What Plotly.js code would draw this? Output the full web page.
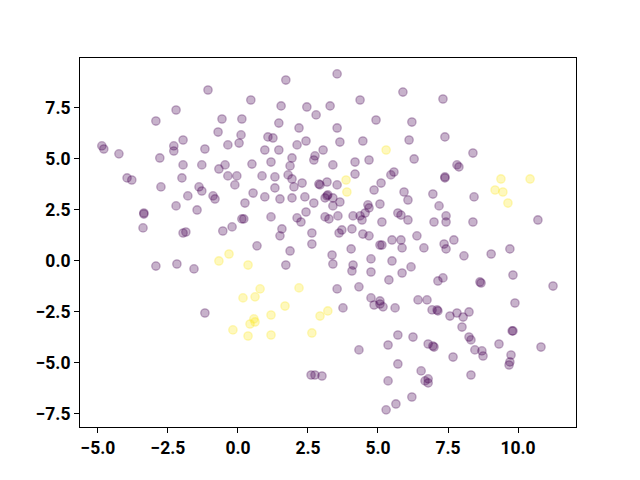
<!DOCTYPE html>
<html>
<head>
<meta charset="utf-8">
<script src="https://cdn.plot.ly/plotly-3.0.1.min.js"></script>
<style>html,body{margin:0;padding:0;background:#fff;}#chart{width:640px;height:480px;}</style>
</head>
<body>
<div id="chart"></div>
<script>
// class 0 (purple) points
var purpleX = [-2.21,-2.93,-4.86,-4.79,-4.25,-1.96,-2.29,-2.29,-2.79,-1.96,-1.29,-1.18,-2.0,-3.96,-3.79,
 1.71,-1.07,0.46,1.54,2.46,2.79,3.29,-0.57,0.14,1.46,2.18,-0.71,0.11,0.04,1.07,1.25,2.43,-0.36,2.11,0.96,1.46,3.04,1.93,2.75,2.71,-0.46,-0.68,0.5,1.18,1.86,-0.36,-0.04,0.86,1.32,1.79,1.93,2.29,2.89,2.93,3.18,
 -2.75,-1.39,-1.29,-1.79,-2.21,-1.46,-3.36,-3.36,-3.39,-1.96,-1.86,-2.93,-2.18,-1.57,
 -0.11,-0.89,-0.82,0.25,0.54,0.96,1.32,1.5,1.93,2.0,2.39,2.71,3.11,3.18,0.14,0.21,-0.21,-0.54,1.18,2.11,2.25,2.43,1.57,1.5,2.64,2.64,3.11,0.68,1.86,1.71,
 3.54,5.89,4.36,7.32,4.93,6.21,3.54,3.64,4.46,6.11,7.39,3.39,4.18,4.68,6.29,4.18,5.46,5.57,7.39,7.39,5.11,
 8.39,7.82,7.89,
 8.43,8.39,10.71,7.71,8.07,9.04,9.71,8.64,8.68,9.82,11.25,9.89,
 3.54,3.21,3.39,3.64,3.39,4.86,5.93,6.07,6.96,7.18,4.64,4.68,5.07,4.11,4.36,4.43,4.54,3.57,3.25,5.71,5.82,5.14,6.07,7.0,7.43,7.43,3.71,3.61,4.07,4.46,4.68,6.39,5.5,5.82,5.86,5.07,5.14,6.64,7.36,7.43,4.04,3.36,4.75,5.5,3.39,4.11,4.07,4.75,6.18,5.86,5.39,7.14,7.32,3.54,4.32,4.75,5.07,6.43,6.75,
 3.75,4.86,5.07,5.18,5.61,6.93,7.11,7.14,7.57,5.71,6.25,5.36,6.79,6.96,7.0,4.32,7.68,5.71,6.54,6.79,6.68,6.79,5.36,6.21,5.64,5.29,
 7.82,8.25,8.04,8.0,8.25,8.32,9.79,9.82,9.32,10.82,8.46,8.71,8.75,9.75,9.71,9.68,8.32,
 -1.18,2.61,2.75,3.0];
var purpleY = [7.40,6.86,5.64,5.49,5.25,5.93,5.64,5.39,5.05,4.71,4.71,5.49,4.07,4.07,3.97,
 8.87,8.38,7.89,7.60,7.55,7.16,7.60,6.96,6.96,6.76,6.52,6.32,6.18,5.78,6.08,6.03,5.88,5.69,5.69,5.44,5.44,5.44,5.05,5.15,4.95,4.71,4.51,4.75,4.85,4.66,4.17,4.17,4.17,4.12,4.22,4.02,3.82,3.77,3.73,3.87,
 3.63,3.63,3.43,3.19,2.70,2.50,2.35,2.30,1.62,1.37,1.42,-0.25,-0.15,-0.39,
 3.73,3.19,3.04,2.84,3.33,3.14,3.58,3.04,3.09,3.63,3.14,2.84,3.09,3.19,2.06,2.06,1.67,1.47,2.16,2.11,1.91,2.40,1.57,1.23,1.37,0.83,2.16,0.74,0.49,-0.20,
 9.17,8.28,7.89,7.94,6.91,6.81,6.52,5.83,5.88,5.93,6.08,4.71,4.85,4.95,5.0,4.26,4.22,4.36,4.12,4.07,3.82,
 5.29,4.71,4.61,
 3.14,1.91,2.01,1.03,0.25,0.34,0.59,-1.03,-1.08,-0.69,-1.23,-2.06,
 3.73,3.24,3.09,2.89,2.70,3.48,3.38,2.99,3.28,2.70,2.75,2.60,2.79,2.21,2.21,2.01,2.35,2.21,2.06,2.35,2.25,1.91,2.01,1.91,2.21,1.91,1.52,1.37,1.57,1.32,1.23,1.23,1.03,1.03,0.64,0.78,0.78,0.64,0.83,0.59,0.59,0.29,0.10,0.0,-0.15,-0.20,-0.49,-0.54,-0.29,-0.59,-0.93,-0.98,-0.83,-1.37,-1.27,-1.81,-1.96,-1.91,-1.91,
 -2.30,-2.16,-2.11,-2.25,-2.30,-2.40,-2.40,-2.45,-2.70,-3.63,-3.73,-4.12,-4.07,-4.17,-4.22,-4.36,-4.71,-5.05,-5.39,-5.78,-5.88,-5.98,-5.88,-6.67,-7.01,-7.30,
 -2.55,-2.50,-2.75,-3.24,-3.73,-3.87,-3.43,-3.43,-4.07,-4.22,-4.36,-4.41,-4.66,-4.61,-4.95,-5.10,-5.59,
 -2.55,-5.59,-5.59,-5.64];
// class 1 (yellow) points
var yellowX = [-0.32,-0.68,0.36,0.79,2.18,0.18,0.61,1.68,0.57,0.61,0.43,1.18,-0.18,0.36,1.18,2.64,2.93,3.21,5.29,3.86,3.89,9.39,10.43,9.18,9.46,9.64];
var yellowY = [0.34,0.0,-0.20,-1.37,-1.32,-1.81,-1.76,-2.21,-2.84,-2.99,-3.09,-2.65,-3.38,-3.68,-3.63,-3.53,-2.70,-2.45,5.44,3.97,3.38,4.02,4.02,3.48,3.38,2.84];
var xTicks = [-5.0,-2.5,0.0,2.5,5.0,7.5,10.0];
var yTicks = [-7.5,-5.0,-2.5,0.0,2.5,5.0,7.5];

var purple = '#440154', yellow = '#fde725';
function rgba(hex, a){
  var r=parseInt(hex.slice(1,3),16), g=parseInt(hex.slice(3,5),16), b=parseInt(hex.slice(5,7),16);
  return 'rgba('+r+','+g+','+b+','+a+')';
}
function trace(x, y, c){
  return {x:x, y:y, type:'scatter', mode:'markers', hoverinfo:'skip',
    marker:{size:8.4, color:rgba(c,0.3), line:{color:rgba(c,0.3), width:1.3}}};
}
var tickfont = {family:'Roboto, sans-serif', size:17.5, weight:'bold', color:'#000'};
var axisCommon = {showgrid:false, zeroline:false, showline:true, mirror:true, linecolor:'#000', linewidth:1,
  ticks:'outside', ticklen:5, tickwidth:1, tickcolor:'#000', tickfont:tickfont, tickformat:'.1f', tickmode:'array'};
var layout = {
  width:640, height:480, showlegend:false,
  paper_bgcolor:'#fff', plot_bgcolor:'#fff',
  margin:{l:80, r:64, t:58, b:53, pad:0},
  xaxis:Object.assign({}, axisCommon, {range:[-5.64,12.07], tickvals:xTicks}),
  yaxis:Object.assign({}, axisCommon, {range:[-8.14,9.95], tickvals:yTicks})
};
Plotly.newPlot('chart', [trace(purpleX, purpleY, purple), trace(yellowX, yellowY, yellow)], layout, {staticPlot:true, displayModeBar:false});
</script>
</body>
</html>
